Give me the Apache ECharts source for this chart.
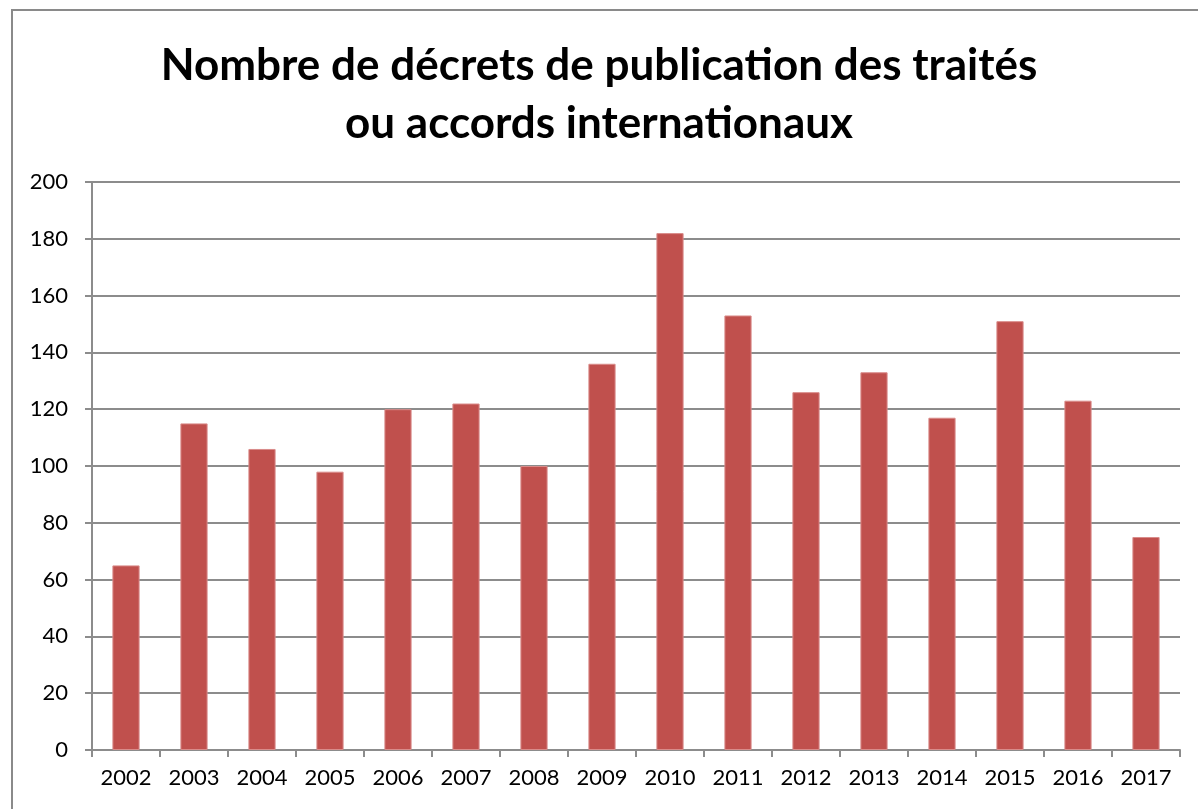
<!DOCTYPE html>
<html>
<head>
<meta charset="utf-8">
<style>
  html, body { margin: 0; padding: 0; background: #fff; }
  #chart { width: 1198px; height: 809px; }
</style>
<script src="https://cdn.jsdelivr.net/npm/echarts@6/dist/echarts.min.js"></script>
</head>
<body>
<div id="chart"></div>
<script>
const years = ['2002', '2003', '2004', '2005', '2006', '2007', '2008', '2009',
               '2010', '2011', '2012', '2013', '2014', '2015', '2016', '2017']
const decrets = [65, 115, 106, 98, 120, 122, 100, 136, 182, 153, 126, 133, 117, 151, 123, 75]
const titleLines = ['Nombre de décrets de publication des traités', 'ou accords internationaux']

const chart = echarts.init(document.getElementById('chart'))
const font = 'Lato, "Open Sans", sans-serif'

chart.setOption({
    animation: false,
    backgroundColor: '#fff',
    graphic: [{
        type: 'rect',
        shape: { x: 12, y: 10, width: 1300, height: 900 },
        style: { fill: 'none', stroke: '#8a8a8a', lineWidth: 2 },
        silent: true
    }],
    title: {
        text: titleLines.join('\n'),
        left: 'center',
        top: 32,
        textStyle: {
            fontFamily: font,
            fontWeight: 'bold',
            fontSize: 44,
            lineHeight: 58,
            color: '#000'
        }
    },
    grid: { left: 92, right: 18, top: 182, bottom: 59 },
    xAxis: {
        type: 'category',
        data: years,
        axisLine: { lineStyle: { color: '#8c8c8c', width: 2 } },
        axisTick: { show: true, length: 7, lineStyle: { color: '#8c8c8c', width: 2 } },
        axisLabel: { fontFamily: font, fontSize: 22, color: '#000', margin: 17 }
    },
    yAxis: {
        type: 'value',
        min: 0,
        max: 200,
        interval: 20,
        axisLine: { show: true, lineStyle: { color: '#8c8c8c', width: 2 } },
        axisTick: { show: true, length: 7, lineStyle: { color: '#8c8c8c', width: 2 } },
        axisLabel: { fontFamily: font, fontSize: 22, color: '#000', margin: 24 },
        splitLine: { lineStyle: { color: '#8c8c8c', width: 2 } }
    },
    series: [{
        type: 'bar',
        data: decrets,
        barCategoryGap: '60%',
        itemStyle: { color: '#C0504D', borderColor: '#d98c8a', borderWidth: 1 }
    }]
})
</script>
</body>
</html>
